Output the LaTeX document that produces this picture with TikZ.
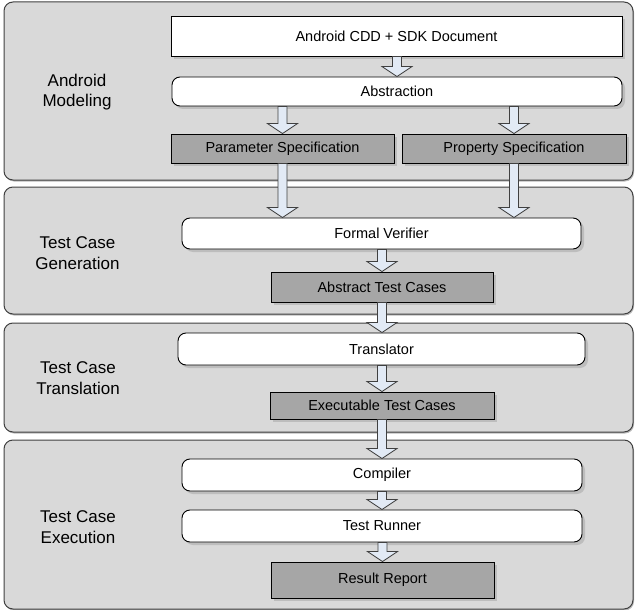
\documentclass[tikz,border=0pt]{standalone}
\usepackage{fontspec}
\setmainfont{Liberation Sans}
\usetikzlibrary{calc,shadows}
\definecolor{panelfill}{HTML}{D9D9D9}
\definecolor{paneldraw}{HTML}{404040}
\definecolor{darkbox}{HTML}{A6A6A6}
\definecolor{arrowfill}{HTML}{E2EAF5}
\tikzset{
  panel/.style={draw=paneldraw, fill=panelfill, line width=1pt, rounded corners=9pt,
    drop shadow={shadow xshift=1pt, shadow yshift=-1.5pt, fill=black!45, opacity=0.6}},
  boxbase/.style={draw=black, line width=0.9pt, inner sep=0pt,
    font=\fontsize{14.5}{17}\selectfont,
    drop shadow={shadow xshift=3pt, shadow yshift=-3pt, fill=black!30, opacity=0.7}},
  whitebox/.style={boxbase, fill=white},
  roundbox/.style={boxbase, fill=white, rounded corners=8pt},
  greybox/.style={boxbase, fill=darkbox},
  phase/.style={align=center, font=\fontsize{17}{20.5}\selectfont},
  blockarrow/.style={draw=paneldraw, fill=arrowfill, line width=0.8pt, line join=miter}
}
\newcommand{\barrow}[2]{%
  \path[blockarrow] let \p1=(#1), \p2=(#2) in
    (\x2-4.5pt,\y1) -- (\x2-4.5pt,\y2+10pt) -- (\x2-15pt,\y2+10pt) -- (\x2,\y2)
    -- (\x2+15pt,\y2+10pt) -- (\x2+4.5pt,\y2+10pt) -- (\x2+4.5pt,\y1) -- cycle;}
\begin{document}
\begin{tikzpicture}[x=1pt,y=-1pt]
\useasboundingbox (0,0) rectangle (635,610);
% panels
\path[panel] (4,2) rectangle (633,180);
\path[panel] (4,187) rectangle (633,314);
\path[panel] (4,323) rectangle (633,432);
\path[panel] (4,440) rectangle (633,609);
% phase labels
\node[phase] (l1) at (77,92) {Android\\Modeling};
\node[phase] (l2) at (77.5,253) {Test Case\\Generation};
\node[phase] (l3) at (78,378) {Test Case\\Translation};
\node[phase] (l4) at (78,527) {Test Case\\Execution};
% boxes
\node[whitebox, minimum width=451pt, minimum height=40pt] (cdd) at (396.5,36) {Android CDD + SDK Document};
\node[roundbox, minimum width=450pt, minimum height=29pt] (abs) at (397,91.5) {Abstraction};
\node[greybox, minimum width=223pt, minimum height=29pt] (par) at (282.5,148.5) {Parameter Specification};
\node[greybox, minimum width=224pt, minimum height=29pt] (prop) at (514,148.5) {Property Specification};
\node[roundbox, minimum width=399pt, minimum height=31pt] (fv) at (381.5,233.5) {Formal Verifier};
\node[greybox, minimum width=222pt, minimum height=30pt] (atc) at (382,287) {Abstract Test Cases};
\node[roundbox, minimum width=407pt, minimum height=32pt] (tr) at (381.5,349) {Translator};
\node[greybox, minimum width=224pt, minimum height=27pt] (etc) at (382,405.5) {Executable Test Cases};
\node[roundbox, minimum width=400pt, minimum height=32pt] (comp) at (382,475) {Compiler};
\node[roundbox, minimum width=400pt, minimum height=32pt] (run) at (382,526) {Test Runner};
\node[greybox, minimum width=223pt, minimum height=36pt] (rep) at (382.5,580) {Result Report};
% block arrows
\barrow{cdd.south}{abs.north}
\barrow{par.north |- abs.south}{par.north}
\barrow{prop.north |- abs.south}{prop.north}
\barrow{par.south}{par.south |- fv.north}
\barrow{prop.south}{prop.south |- fv.north}
\barrow{atc.north |- fv.south}{atc.north}
\barrow{atc.south}{atc.south |- tr.north}
\barrow{etc.north |- tr.south}{etc.north}
\barrow{etc.south}{etc.south |- comp.north}
\barrow{comp.south}{comp.south |- run.north}
\barrow{rep.north |- run.south}{rep.north}
\end{tikzpicture}
\end{document}
